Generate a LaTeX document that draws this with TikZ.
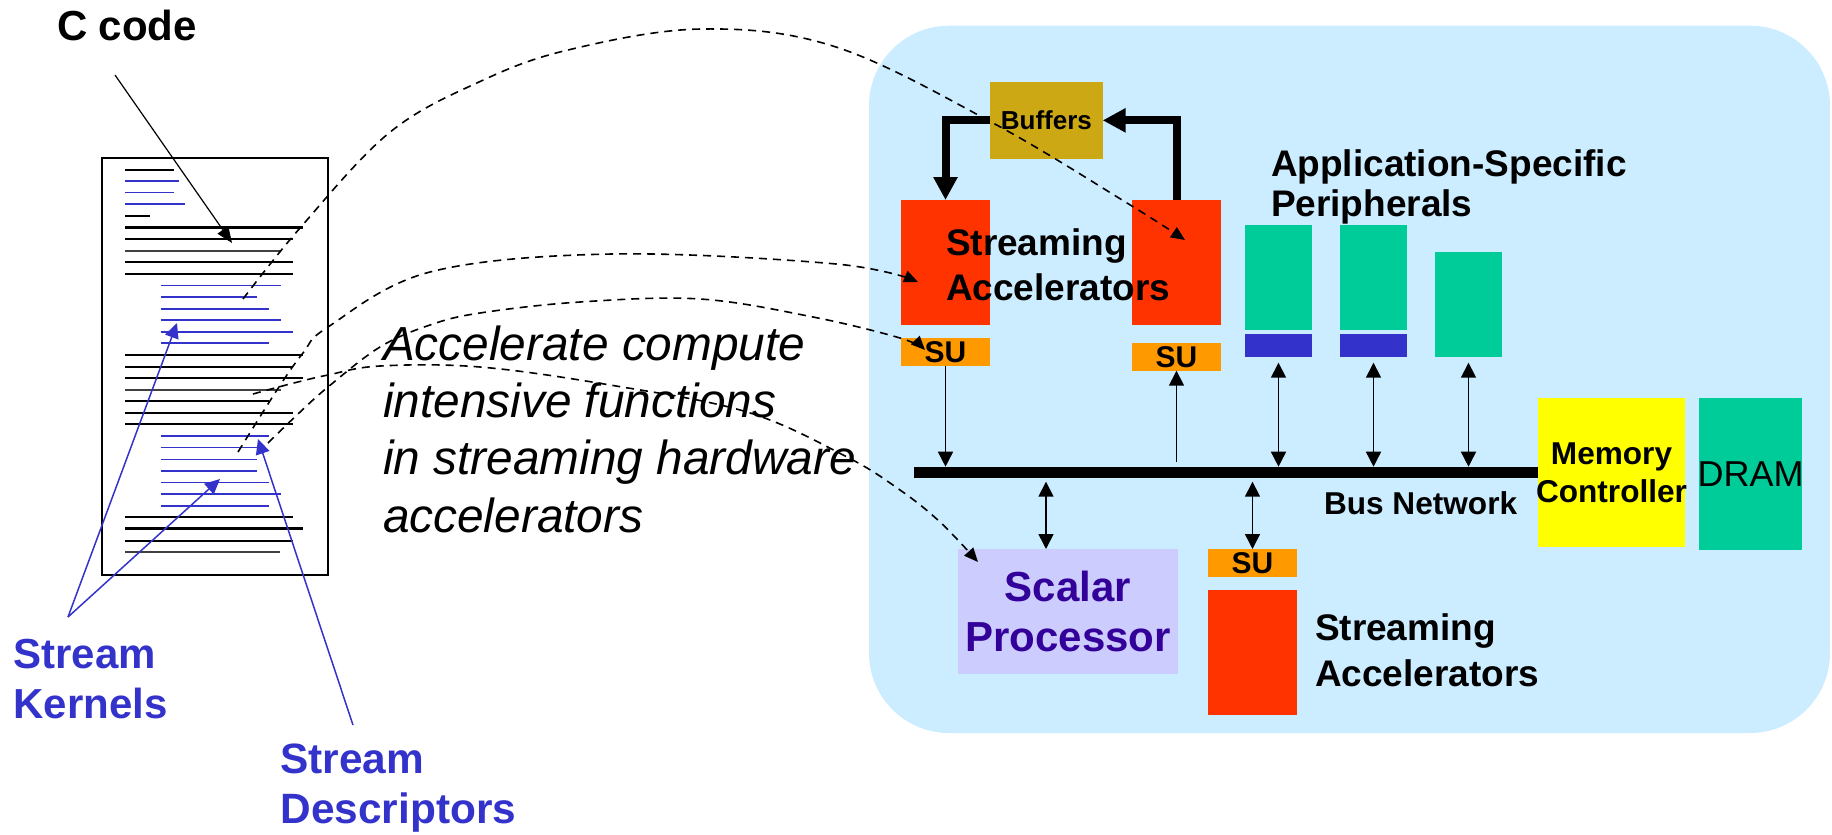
\documentclass[tikz,border=0pt]{standalone}
\usepackage{fontspec}
\setmainfont{Liberation Sans}
\usetikzlibrary{arrows.meta,fit,calc}

\definecolor{panel}{HTML}{CCECFF}
\definecolor{bufcol}{HTML}{CCA814}
\definecolor{accred}{HTML}{FF3300}
\definecolor{suorange}{HTML}{FF9900}
\definecolor{perigreen}{HTML}{00CC99}
\definecolor{barblue}{HTML}{3333CC}
\definecolor{memyellow}{HTML}{FFFF00}
\definecolor{scalfill}{HTML}{CCCCFF}
\definecolor{scaltext}{HTML}{330099}
\definecolor{streamblue}{HTML}{3333CC}

\newcommand\fsz[2]{\fontsize{#1}{#2}\selectfont}
\newcommand\stk[1]{\begin{tabular}[t]{@{}l@{}}#1\end{tabular}}

\begin{document}
\begin{tikzpicture}[x=0.5pt,y=-0.5pt,
  blk/.style={inner sep=0pt, outer sep=0pt, draw=none},
  txt/.style={inner sep=0pt, outer sep=0pt, anchor=base west},
  boxtxt/.style={inner sep=0pt, font=\bfseries\fsz{15}{18}},
  kl/.style={line width=1pt, black},
  Kl/.style={line width=1.4pt, black},
  gl/.style={line width=0.8pt, black!75},
  bl/.style={line width=0.8pt, streamblue},
  thickarr/.style={line width=4pt, -{Triangle[length=11.5pt,width=11.5pt]}},
  thinarr/.style={line width=0.8pt, -{Triangle[length=7.5pt,width=7.5pt]}},
  dblarr/.style={line width=0.8pt, {Triangle[length=7.5pt,width=7.5pt]}-{Triangle[length=7.5pt,width=7.5pt]}},
  dsh/.style={line width=0.8pt, dash pattern=on 4pt off 3pt, -{Triangle[length=7pt,width=6pt]}},
  bluearr/.style={line width=0.75pt, streamblue, -{Triangle[length=7.5pt,width=7pt]}},
]
\useasboundingbox (0,0) rectangle (1832,835);

% system-on-chip panel
\node[blk, fill=panel, rounded corners=40pt, fit={(869,25.7) (1830,733)}] (soc) {};

% buffers and streaming accelerators
\node[blk, fill=bufcol, fit={(990,82) (1102.7,158.7)},
  label={[inner sep=0pt, font=\bfseries\fsz{13}{15}]center:Buffers}] (buf) {};
\node[blk, fill=accred, fit={(901,200) (990,325)}] (saL) {};
\node[blk, fill=suorange, fit={(901,338) (990,365.7)}, label={[boxtxt]center:SU}] (suL) {};
\node[blk, fill=accred, fit={(1132,200) (1221,325)}] (saR) {};
\node[blk, fill=suorange, fit={(1132,343) (1221,370.7)}, label={[boxtxt]center:SU}] (suR) {};

% application-specific peripherals
\node[blk, fill=perigreen, fit={(1245,225) (1312,329.7)}] (p1) {};
\node[blk, fill=barblue, fit={(1245,334) (1312,356.7)}] (bb1) {};
\node[blk, fill=perigreen, fit={(1340,225) (1407,329.7)}] (p2) {};
\node[blk, fill=barblue, fit={(1340,334) (1407,356.7)}] (bb2) {};
\node[blk, fill=perigreen, fit={(1435,252) (1502,356.7)}] (p3) {};

% bus, memory
\node[blk, fill=black, fit={(914,466.7) (1538,478.3)}] (bus) {};
\node[blk, fill=memyellow, fit={(1538,398) (1685,547)},
  label={[inner sep=0pt, font=\bfseries\fsz{15.8}{19}, align=center]center:Memory\\Controller}] (mc) {};
\node[blk, fill=perigreen, fit={(1699,398) (1802,549.7)},
  label={[inner sep=0pt, font=\fsz{18}{21}]center:DRAM}] (dram) {};

% scalar processor and lower accelerator
\node[blk, fill=scalfill, fit={(958,549) (1178,673.7)},
  label={[inner sep=0pt, font=\bfseries\fsz{21}{25}, text=scaltext, align=center, text depth=0pt]center:Scalar\\Processor}] (scal) {};
\node[blk, fill=suorange, fit={(1208,549) (1297,576.7)}, label={[boxtxt]center:SU}] (suB) {};
\node[blk, fill=accred, fit={(1208,590) (1297,715)}] (saB) {};

% labels
\node[txt, font=\bfseries\fsz{18.5}{22.5}] (saLab) at (946,255) {\stk{Streaming\\Accelerators}};
\node[txt, font=\bfseries\fsz{18.5}{20}] (apLab) at (1271,176.7) {\stk{Application-Specific\\Peripherals}};
\node[txt, font=\bfseries\fsz{18.5}{23.3}] (sbLab) at (1315,640) {\stk{Streaming\\Accelerators}};
\node[txt, font=\bfseries\fsz{15.8}{19}] (busLab) at (1324,514) {Bus Network};

% source listing
\node[blk, draw=black, line width=0.85pt, fit={(101.7,157.7) (327.7,575)}] (doc) {};
\foreach \y/\xa/\xb/\s in {
  169.7/125/174/kl, 181/125/179.3/bl, 192.3/125/174/bl, 204/125/185.3/bl,
  215.7/125/150.3/kl, 227.3/125/303.3/Kl, 238.7/125/292.7/kl, 250.7/125/280/gl,
  262/125/292.7/kl, 274/125/292.7/kl,
  285.3/160.7/280.7/bl, 296.7/160.7/256.7/bl, 308.7/160.7/269/bl, 320/160.7/280.7/bl,
  331.7/160.7/292.7/bl, 343/160.7/269/bl,
  355/125/303.3/kl, 366.7/125/292.7/kl, 378/125/303.3/Kl, 389.7/125/280.7/gl,
  401/125/269/kl, 412.7/125/292.7/kl, 424.3/125/292.7/kl,
  436/160.7/269/bl, 447.3/160.7/256.7/bl, 459.3/160.7/256.7/bl, 470.7/160.7/256.7/bl,
  482.3/160.7/269/bl, 494/160.7/280.7/bl, 505.7/160.7/269/bl,
  517.3/125/292.7/kl, 528.7/125/303.3/Kl, 540.7/125/292.7/kl, 552/125/280/gl}
  \draw[\s] (\xa,\y) -- (\xb,\y);

\node[txt, font=\bfseries\fsz{21}{25}] (ccode) at (57,40) {C code};
\node[txt, font=\bfseries\fsz{21}{25}, text=streamblue] (skLab) at (13.5,668) {\stk{Stream\\Kernels}};
\node[txt, font=\bfseries\fsz{21.2}{25}, text=streamblue] (sdLab) at (280.5,773) {\stk{Stream\\Descriptors}};
\node[txt, font=\itshape\fsz{23.9}{28.55}] (note) at (383,360.7)
  {\stk{Accelerate compute\\intensive functions\\in streaming hardware\\accelerators}};

% pointers into the listing
\coordinate (ccTail) at (115,75);
\coordinate (ccTip) at (232,243);
\draw[line width=0.6pt, -{Triangle[length=8pt,width=6.5pt]}] (ccTail) -- (ccTip);
\coordinate (skTail) at (68,617);
\coordinate (kTip1) at (177,323);
\coordinate (kTip2) at (220,479);
\coordinate (sdTail) at (353,725);
\coordinate (dTip) at (258,439);
\draw[bluearr] (skTail) -- (kTip1);
\draw[bluearr] (skTail) -- (kTip2);
\draw[bluearr] (sdTail) -- (dTip);

% buffer loop
\draw[thickarr] (buf.west) -| (saL.north);
\draw[thickarr] (saR.north) |- (buf.east);

% bus connections
\draw[thinarr] (suL.south) -- (suL.south |- bus.north);
\draw[thinarr, shorten <=2.5pt] (suR.south |- bus.north) -- (suR.south);
\draw[dblarr, shorten <=3pt] (bb1.south) -- (bb1.south |- bus.north);
\draw[dblarr, shorten <=3pt] (bb2.south) -- (bb2.south |- bus.north);
\draw[dblarr, shorten <=3pt] (p3.south) -- (p3.south |- bus.north);
\coordinate (scAnchor) at ($(scal.north west)+(88,0)$);
\draw[dblarr, shorten <=1.7pt] (scAnchor |- bus.south) -- (scAnchor);
\draw[dblarr, shorten <=1.7pt] (suB.north |- bus.south) -- (suB.north);

% mapping of code regions onto hardware
\coordinate (kA) at (243,299);
\coordinate (kB) at (238,452);
\coordinate (dC) at (268,443);
\coordinate (cD) at (253,394);
\coordinate (eA) at ($(saR.north west)+(53,40)$);
\coordinate (eB) at ($(saL.north west)+(17,82)$);
\coordinate (eC) at ($(suL.north west)+(24,12)$);
\coordinate (eD) at ($(scal.north west)+(20,13)$);
\draw[dsh] plot[smooth, tension=0.6] coordinates {(kA) (300,228) (389,133) (479,82) (568,50) (702,29) (836,47) (993,123) (1127,203) (eA)};
\draw[dsh] plot[smooth, tension=0.6] coordinates {(kB) (277,390) (303,353) (328,327) (430,272) (612,254) (836,264) (eB)};
\draw[dsh] plot[smooth, tension=0.6] coordinates {(dC) (298,414) (328,387) (380,347) (430,325) (480,313) (580,302) (700,299) (813,317) (900,338) (eC)};
\draw[dsh] plot[smooth, tension=0.6] coordinates {(cD) (290,384) (328,375) (380,366) (480,367) (610,385) (747,412) (847,457) (900,490) (940,522) (eD)};
\end{tikzpicture}
\end{document}
